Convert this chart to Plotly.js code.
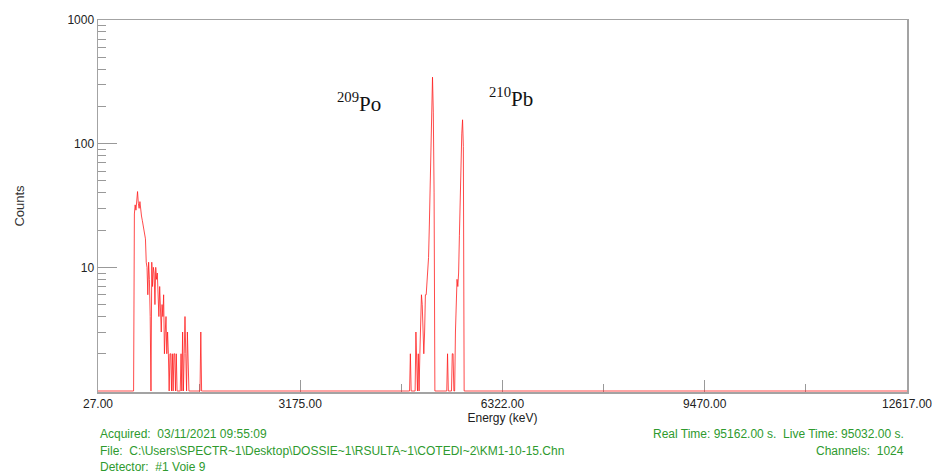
<!DOCTYPE html>
<html><head><meta charset="utf-8">
<script src="https://cdn.plot.ly/plotly-3.0.1.min.js"></script>
<style>html,body{margin:0;padding:0;background:#fff}#chart{width:932px;height:475px}</style>
</head><body><div id="chart"></div>
<script>
// Calibration of the MCA (channel -> energy, keV)
const energyFirst = 27;
const energyLast = 12617;
const channelTotal = 1024;

// Spectrum segments: first channel + counts per channel (all other channels are 0)
const lowStartChannel = 45;
const lowCounts = [0,27,32,29,36,41,33,30,34,27,26,24,22,19,18,17,11,10,6,11,8,4,0,11,7,10,9,5,10,8,9,6,4,7,5,3,5,4,6,2,3,4,2,3,2,0,2,2,0,2,0,2,2,0,2,0,0,0,0,0,2,0,3,1,2,4,2,0,3,2,0,0,0,0,0,0,0,0,0,0,0,0,0,0,0,3,0];
const poStartChannel = 393;
const poCounts = [0,0,2,1,0,0,0,0,1,3,2,1,2,0,2,3,6,5,3,2,3,6,6,8,10,12,22,40,114,200,345,180,40,0];
const pbStartChannel = 441;
const pbCounts = [0,2,0,0,0,0,0,2,2,0,0,3,6,8,7,9,18,45,85,120,156,95,0];

// Axis ticks and labels
const xTickValues = [27, 3175, 6322, 9470, 12617];
const xTickLabels = ['27.00', '3175.00', '6322.00', '9470.00', '12617.00'];
const xMinorTicks = [1601, 4748.5, 7896, 11043.5];
const yTickValues = [10, 100, 1000];
const yTickLabels = ['10', '100', '1000'];
const yMinorTicks = [2,3,4,5,6,7,8,9,20,30,40,50,60,70,80,90,200,300,400,500,600,700,800,900];

// Footer information
const infoLeft = ['Acquired:\u00a0 03/11/2021 09:55:09',
  'File:\u00a0 C:\\Users\\SPECTR~1\\Desktop\\DOSSIE~1\\RSULTA~1\\COTEDI~2\\KM1-10-15.Chn',
  'Detector:\u00a0 #1 Voie 9'];
const infoRight = ['Real Time: 95162.00 s.\u00a0 Live Time: 95032.00 s.', 'Channels:\u00a0 1024'];
const peakLabels = ['<sup>209</sup>Po', '<sup>210</sup>Pb'];

// Build the full spectrum
const kevPerChannel = (energyLast - energyFirst) / (channelTotal - 1);
const spectrum = new Array(channelTotal).fill(0);
[[lowStartChannel, lowCounts], [poStartChannel, poCounts], [pbStartChannel, pbCounts]].forEach(([s, arr]) => {
  arr.forEach((v, i) => { spectrum[s + i] = v; });
});
const energies = spectrum.map((_, ch) => energyFirst + ch * kevPerChannel);
// on the log display, empty channels sit on the baseline (1)
const shown = spectrum.map(v => Math.max(v, 1));

const axisGray = '#a3a3a3';
const tickFont = {family: 'Liberation Sans, Arial, sans-serif', size: 12, color: '#222'};
const green = '#2e9a2e';
const infoFont = {family: 'Liberation Sans, Arial, sans-serif', size: 12, color: green};

const annotations = [];
const rowY = [-0.1129, -0.1586, -0.2016];
infoLeft.forEach((t, i) => annotations.push({text: t, xref: 'paper', yref: 'paper', x: 0, y: rowY[i], xanchor: 'left', yanchor: 'middle', showarrow: false, font: infoFont}));
infoRight.forEach((t, i) => annotations.push({text: t, xref: 'paper', yref: 'paper', x: 0.9988, y: rowY[i], xanchor: 'right', yanchor: 'middle', showarrow: false, font: infoFont}));
const labelFont = {family: 'Liberation Serif, Times New Roman, serif', size: 21, color: '#111'};
annotations.push({text: peakLabels[0], xref: 'paper', yref: 'paper', x: 0.2930, y: 0.778, xanchor: 'left', yanchor: 'middle', showarrow: false, font: labelFont});
annotations.push({text: peakLabels[1], xref: 'paper', yref: 'paper', x: 0.4812, y: 0.792, xanchor: 'left', yanchor: 'middle', showarrow: false, font: labelFont});

const trace = {
  x: energies, y: shown, type: 'scatter', mode: 'lines',
  line: {color: 'rgba(255,30,30,0.8)', width: 1}, hoverinfo: 'x+y', showlegend: false
};

const layout = {
  width: 932, height: 475,
  margin: {l: 98, r: 25, t: 20, b: 83},
  paper_bgcolor: '#fff', plot_bgcolor: '#fff',
  showlegend: false,
  xaxis: {
    range: [energyFirst, energyLast], tickmode: 'array', tickvals: xTickValues, ticktext: xTickLabels,
    ticks: 'inside', ticklen: 12, tickwidth: 1, tickcolor: '#999',
    minor: {tickmode: 'array', tickvals: xMinorTicks, ticks: 'inside', ticklen: 8, tickcolor: '#999', showgrid: false},
    showline: true, linecolor: axisGray, linewidth: 1.5, mirror: true,
    showgrid: false, zeroline: false, tickfont: tickFont, layer: 'below traces',
    ticklabeloverflow: 'allow',
    title: {text: 'Energy (keV)', font: {family: 'Liberation Sans, Arial, sans-serif', size: 12, color: '#222'}, standoff: 3},
    automargin: false
  },
  yaxis: {
    type: 'log', range: [-0.008, 3], tickmode: 'array', tickvals: yTickValues, ticktext: yTickLabels,
    ticks: 'inside', ticklen: 19, tickwidth: 1, tickcolor: '#999',
    minor: {tickmode: 'array', tickvals: yMinorTicks, ticks: 'inside', ticklen: 8, tickcolor: '#999', showgrid: false},
    showline: true, linecolor: axisGray, linewidth: 1.5, mirror: true,
    showgrid: false, zeroline: false, tickfont: tickFont, layer: 'below traces',
    title: {text: 'Counts', font: {family: 'Liberation Sans, Arial, sans-serif', size: 13, color: '#333'}, standoff: 40},
    automargin: false
  },
  annotations: annotations
};

Plotly.newPlot('chart', [trace], layout, {displayModeBar: false, staticPlot: true});
</script>
</body></html>
